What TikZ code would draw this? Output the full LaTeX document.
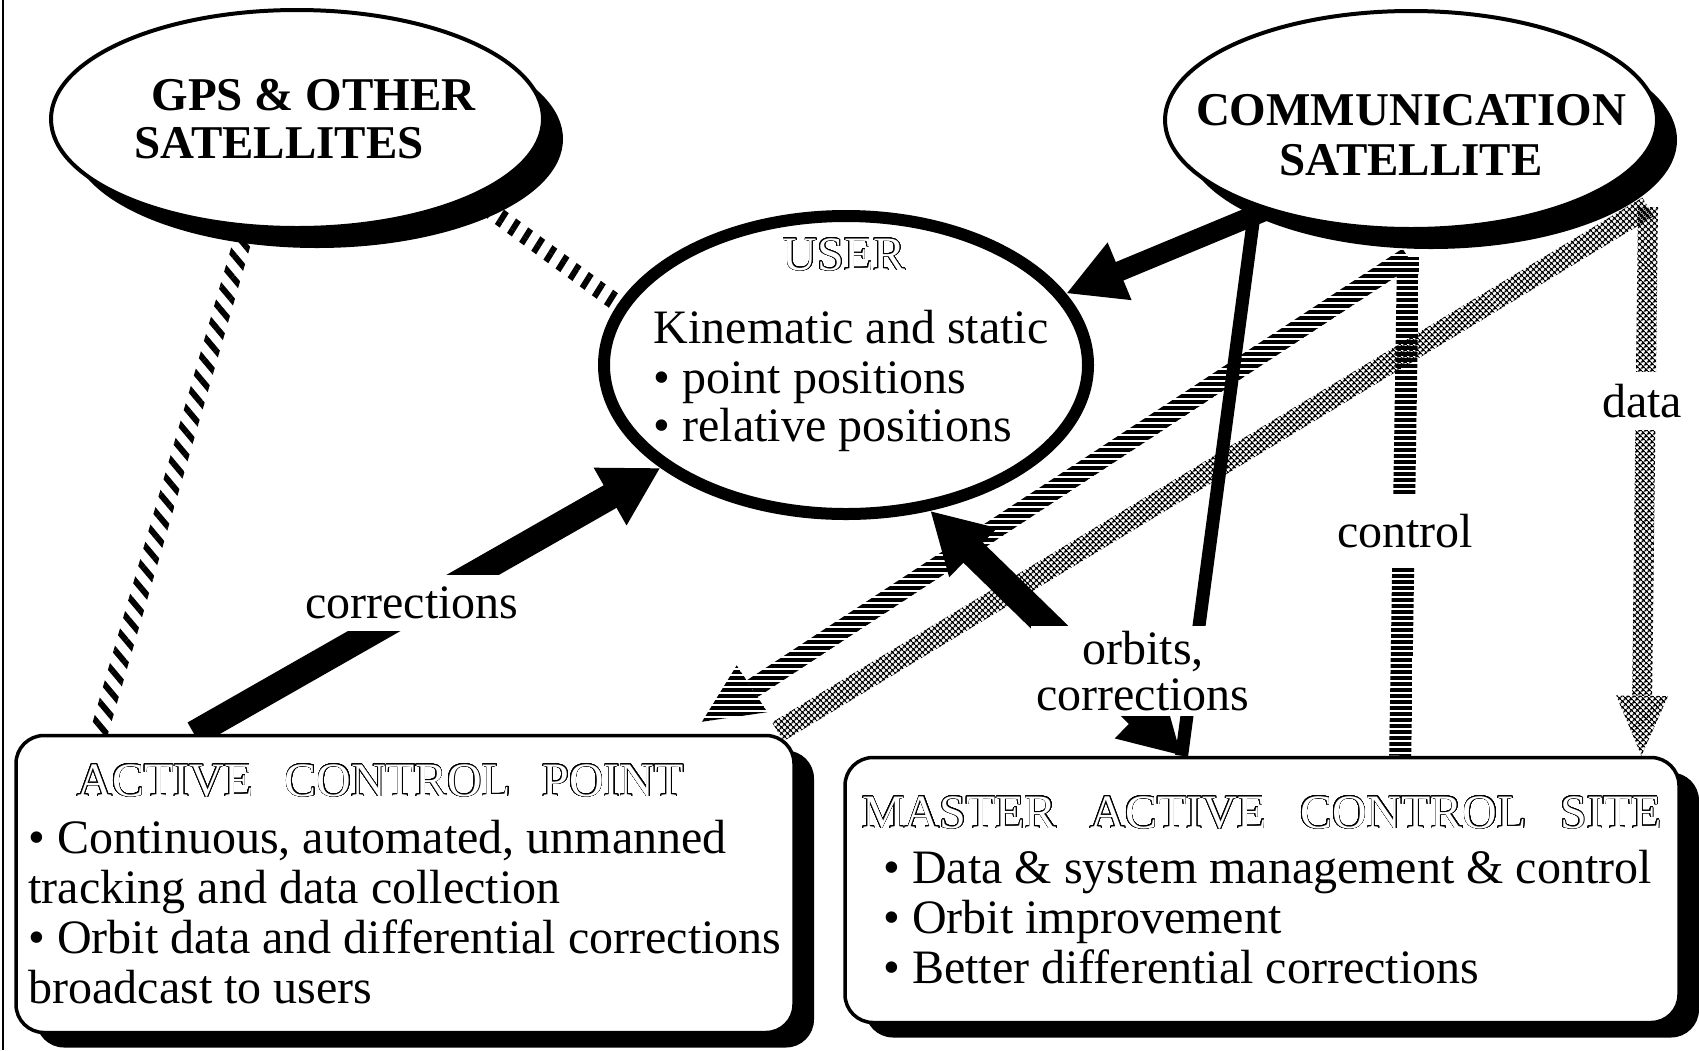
\documentclass[tikz,border=0pt]{standalone}
\usepackage{fontspec}
\setmainfont{Liberation Serif}
\usepackage{contour}
\contourlength{0.65pt}
\contournumber{32}
\usepackage{tikz}
\usetikzlibrary{arrows.meta, calc, shapes.geometric, shadows, backgrounds, patterns.meta}

\newcommand{\hollow}[1]{\textcolor{white}{\contour{black}{#1}}}
\newcommand{\band}[4]{\path[#4] ($(#1)!#3!90:(#2)$) -- ($(#2)!#3!-90:(#1)$) -- ($(#2)!#3!90:(#1)$) -- ($(#1)!#3!-90:(#2)$) -- cycle;}
\newcommand{\bandarrow}[6]{\coordinate (hb) at ($(#2)!#4!(#1)$);
  \band{#1}{hb}{#3}{#6}
  \path[#6] (#2) -- ($(hb)!#5!90:(#2)$) -- ($(hb)!#5!-90:(#2)$) -- cycle;}

\begin{document}
\begin{tikzpicture}[x=1pt, y=-1pt,
    every node/.style={font=\fontsize{48}{50}\selectfont},
    sat/.style={ellipse, draw, line width=4pt, fill=white, minimum width=492pt, minimum height=218pt, inner sep=0pt,
      drop shadow={shadow xshift=20pt, shadow yshift=-20pt, fill=black, opacity=1}},
    site/.style={draw, rounded corners=28pt, line width=3.5pt, fill=white, align=left, inner sep=0pt,
      drop shadow={shadow xshift=20pt, shadow yshift=-15pt, fill=black, opacity=1}},
    lbl/.style={fill=white, inner sep=12pt},
    gpshatch/.style={pattern={Lines[angle=#1, distance=15pt, line width=6pt]}},
    ctlhatch/.style={pattern={Lines[angle=0, distance=6pt, line width=3.5pt]}},
    datahatch/.style={pattern={Hatch[angle=45, distance=4pt, line width=1.4pt]}}]
  \useasboundingbox (0,0) rectangle (1699,1050);
  \draw[line width=2.5pt] (3,0) -- (3,1050);

  \node[sat, label={[font=\bfseries\fontsize{47}{48}\selectfont, align=left, xshift=8pt]center:\hspace*{17pt}GPS \& OTHER\\SATELLITES}] (gps) at (297,119) {};
  \node[sat, label={[font=\bfseries\fontsize{47}{50}\selectfont, align=center, yshift=-15pt]center:COMMUNICATION\\SATELLITE}] (comm) at (1411,120) {};
  \node[ellipse, draw, line width=12pt, fill=white, minimum width=484pt, minimum height=298pt, inner sep=0pt,
    label={[align=left, xshift=5pt, yshift=20pt]center:\hspace*{129pt}\hollow{USER}\\[23pt]Kinematic and static\\\textbullet\ point positions\\[-2pt]\textbullet\ relative positions}] (user) at (846,365) {};
  \node[site, minimum width=778pt, minimum height=297pt] (acp) at (405,884) {\hspace*{49pt}\hollow{ACTIVE\hspace{.65em}CONTROL\hspace{.65em}POINT}\\[7pt]\textbullet\ Continuous, automated, unmanned\\tracking and data collection\\\textbullet\ Orbit data and differential corrections\\broadcast to users};
  \node[site, minimum width=834pt, minimum height=265pt] (macs) at (1262,890) {\hollow{MASTER\hspace{.7em}ACTIVE\hspace{.7em}CONTROL\hspace{.7em}SITE}\\[5pt]\hspace*{21pt}\textbullet\ Data \& system management \& control\\\hspace*{21pt}\textbullet\ Orbit improvement\\\hspace*{21pt}\textbullet\ Better differential corrections};

  \node[lbl] (corr) at (412,603) {corrections};
  \node[lbl, inner sep=5pt, align=center, font=\fontsize{48}{46}\selectfont] (orb) at (1143,671) {orbits,\\corrections};
  \node[lbl, inner ysep=18pt] (ctl) at (1405,531) {control};
  \node[lbl] (dat) at (1642,401) {data};

  \begin{scope}[on background layer]
    \coordinate (gpsfoot) at ($(acp.north west)!0.108!(acp.north east)$);
    \coordinate (ctltop) at (1408,257);
    \coordinate (ctlfoot) at ($(macs.north west)!0.665!(macs.north east)$);
    \coordinate (ctltip) at ($(acp.north west)!0.88!(acp.north east)+(0,-12)$);
    \coordinate (dattop) at (1648,207);
    \coordinate (datfoot) at ($(macs.north west)!0.953!(macs.north east)$);
    \coordinate (datacp) at ($(acp.north east)+(-18,-2)$);
    \coordinate (corrfoot) at ($(acp.north west)!0.23!(acp.north east)$);
    \coordinate (orbfoot) at ($(macs.north west)!0.404!(macs.north east)$);
    \band{gps.245}{gpsfoot}{9pt}{gpshatch=-50}
    \band{gps.-24}{user.165}{8.5pt}{gpshatch=58}
    \band{ctlfoot}{ctltop}{11pt}{ctlhatch}
    \bandarrow{ctltop}{ctltip}{10pt}{60pt}{28pt}{ctlhatch}
    \band{datacp}{dattop}{11pt}{datahatch}
    \bandarrow{dattop}{datfoot}{10pt}{60pt}{26pt}{datahatch}
    \draw[line width=20pt, -{Triangle[length=58pt, width=58pt]}] (comm.212) -- (user.18);
    \draw[line width=13pt] (comm.209) -- (orbfoot);
    \draw[line width=26pt, -{Triangle[length=58pt, width=62pt]}] (corrfoot) -- (user.209);
    \draw[line width=28pt, {Triangle[length=60pt, width=64pt]}-{Triangle[length=60pt, width=64pt]}] (user.-60) -- (orbfoot);
  \end{scope}
\end{tikzpicture}
\end{document}
